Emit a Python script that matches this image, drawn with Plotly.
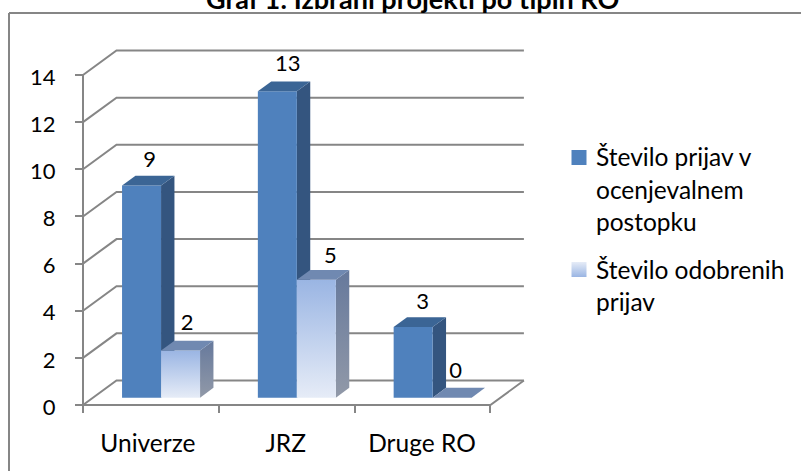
import plotly.graph_objects as go

# ---- data ----
categories = ["Univerze", "JRZ", "Druge RO"]
series_names = ["Število prijav v ocenjevalnem postopku", "Število odobrenih prijav"]
prijave = [9, 13, 3]
odobrene = [2, 5, 0]
y_ticks = [0, 2, 4, 6, 8, 10, 12, 14]
title_text = "Graf 1: Izbrani projekti po tipih RO"
legend_lines_1 = ["Število prijav v", "ocenjevalnem", "postopku"]
legend_lines_2 = ["Število odobrenih", "prijav"]

# ---- geometry (figure pixels -> axis units) ----
W, H = 801, 471
X0_PX, Y0_PX = 83.0, 405.0      # front-left corner of floor
CAT_PX = 135.8                  # width of one category
UNIT_PX = 23.57                 # px per value unit
DEPTH_X = 33.5 / CAT_PX         # full floor depth, in x units
DEPTH_Y = 24.5 / UNIT_PX        # full floor depth, in y units
GAP = 29 / CAT_PX               # gap from category edge to first bar
BAR_W = 39 / CAT_PX
D0, D1 = 0.30, 0.70             # bar extents along the depth axis

GRID = "#868686"
FONT = "Lato"
TXT = "#000000"
SIZE_TEXT = 24.5
SIZE_NUM = 22


def proj(x, v, d):
    return x + d * DEPTH_X, v + d * DEPTH_Y


def poly(points):
    xs = [p[0] for p in points] + [points[0][0]]
    ys = [p[1] for p in points] + [points[0][1]]
    return xs, ys


def face(points, color=None, grad=None):
    xs, ys = poly(points)
    kw = dict(x=xs, y=ys, mode="lines", fill="toself", line=dict(width=0),
              hoverinfo="skip", showlegend=False, cliponaxis=False)
    if grad:
        kw["fillgradient"] = dict(type="vertical",
                                  colorscale=[[0, grad[0]], [1, grad[1]]])
    else:
        kw["fillcolor"] = color
    return go.Scatter(**kw)


def line(xs, ys):
    return go.Scatter(x=xs, y=ys, mode="lines", hoverinfo="skip", showlegend=False,
                      line=dict(color=GRID, width=2), cliponaxis=False)


fig = go.Figure()

# grid: back wall + left wall diagonals
n = len(categories)
for t in y_ticks:
    bx0, by0 = proj(0, t, 1)
    bx1, by1 = proj(n, t, 1)
    fig.add_trace(line([0, bx0, bx1], [t, by0, by1]))
# axis + floor
fig.add_trace(line([0, 0], [0, max(y_ticks)]))
fx, fy = proj(n, 0, 1)
fig.add_trace(line([0, n, fx], [0, 0, fy]))

styles = [
    dict(front=dict(color="#4F81BD"), side=dict(color="#34557F"), top=dict(color="#3B6595")),
    dict(front=dict(grad=("#E6ECF7", "#9AB5E3")), side=dict(grad=("#9199A8", "#66799C")),
         top=dict(color="#7089B1")),
]

for i in range(n):
    for s, vals in enumerate([prijave, odobrene]):
        v = vals[i]
        xa = i + GAP + s * BAR_W
        xb = xa + BAR_W
        st = styles[s]
        a0 = proj(xa, 0, D0); b0 = proj(xb, 0, D0); c0 = proj(xb, 0, D1)
        a1 = proj(xa, v, D0); b1 = proj(xb, v, D0); c1 = proj(xb, v, D1); d1 = proj(xa, v, D1)
        if v > 0:
            fig.add_trace(face([b0, c0, c1, b1], **st["side"]))
            fig.add_trace(face([a0, b0, b1, a1], **st["front"]))
        fig.add_trace(face([a1, b1, c1, d1], **st["top"]))

# data labels
LABEL_DX = [[1.5, 0.0], [4.0, 7.5], [3.0, -3.0]]   # px nudges
LABEL_DY = [24.0, 26.0, 26.0, 22.0, 23.0, 25.0]    # px above bar top
label_x, label_y, label_t = [], [], []
for i in range(n):
    for s, vals in enumerate([prijave, odobrene]):
        label_x.append(i + GAP + (s + 0.5) * BAR_W + D0 * DEPTH_X + 6.5 / CAT_PX
                       + LABEL_DX[i][s] / CAT_PX)
        label_y.append(vals[i] + D0 * DEPTH_Y + LABEL_DY[len(label_y)] / UNIT_PX)
        label_t.append(str(vals[i]))
fig.add_trace(go.Scatter(x=label_x, y=label_y, text=label_t, mode="text",
                         textposition="middle center", hoverinfo="skip", showlegend=False,
                         cliponaxis=False, textfont=dict(family=FONT, size=SIZE_NUM, color=TXT)))


def px_x(p):
    return (p - X0_PX) / CAT_PX


def px_y(p):
    return (Y0_PX - p) / UNIT_PX


# legend swatches
fig.add_trace(go.Scatter(x=[px_x(579)], y=[px_y(157.5)], mode="markers", hoverinfo="skip",
                         showlegend=False, marker=dict(symbol="square", size=15, color="#4F81BD",
                                                       line=dict(width=0))))
fig.add_trace(go.Scatter(x=[px_x(579)], y=[px_y(269.5)], mode="markers", hoverinfo="skip",
                         showlegend=False, marker=dict(symbol="square", size=15, color="#E6ECF7",
                                                       gradient=dict(type="vertical", color="#9AB5E3"),
                                                       line=dict(width=0))))

annotations = []
for lines, y_start in ((legend_lines_1, 157), (legend_lines_2, 269)):
    for k, t in enumerate(lines):
        annotations.append(dict(x=594 / W, y=1 - (y_start + k * 32.3) / H, xref="paper", yref="paper",
                                text=t, showarrow=False, xanchor="left", yanchor="middle",
                                font=dict(family=FONT, size=SIZE_TEXT, color=TXT)))
annotations.append(dict(x=412.5 / W, y=1 - (-2) / H, xref="paper", yref="paper", text="<b>%s</b>" % title_text,
                        showarrow=False, xanchor="center", yanchor="middle",
                        font=dict(family=FONT, size=27, color=TXT)))

CAT_LABEL_DX = [-3.0, -1.0, -0.5]   # px nudges

fig.update_layout(
    width=W, height=H, margin=dict(l=0, r=0, t=0, b=0, autoexpand=False),
    paper_bgcolor="white", plot_bgcolor="white", showlegend=False,
    font=dict(family=FONT, size=SIZE_TEXT, color=TXT),
    annotations=annotations,
    shapes=[dict(type="line", xref="paper", yref="paper", x0=9 / W, x1=1, y0=1 - 13 / H, y1=1 - 13 / H,
                 line=dict(color=GRID, width=2)),
            dict(type="line", xref="paper", yref="paper", x0=9 / W, x1=9 / W, y0=0, y1=1 - 13 / H,
                 line=dict(color=GRID, width=2))],
    xaxis=dict(range=[px_x(0), px_x(W)], domain=[0, 1], anchor="free", position=(H - Y0_PX) / H,
               tickmode="array", tickvals=[i + 0.5 + CAT_LABEL_DX[i] / CAT_PX for i in range(n)],
               ticktext=categories,
               ticks="", ticklabelstandoff=21, showgrid=False, zeroline=False, showline=False,
               tickfont=dict(family=FONT, size=SIZE_TEXT, color=TXT),
               minor=dict(tickmode="array", tickvals=list(range(n + 1)), ticks="outside", ticklen=7,
                          tickwidth=2, tickcolor=GRID, showgrid=False)),
    yaxis=dict(range=[px_y(H), px_y(0)], domain=[0, 1], anchor="free", position=X0_PX / W,
               tickmode="array", tickvals=y_ticks, ticks="outside", ticklen=8, tickwidth=2, tickcolor=GRID,
               ticklabelstandoff=15, ticklabelshift=2, showgrid=False, zeroline=False, showline=False,
               tickfont=dict(family=FONT, size=SIZE_NUM, color=TXT)),
)

fig.write_html("out.html", post_script="document.body.style.margin='0';",
               config=dict(displayModeBar=False))
